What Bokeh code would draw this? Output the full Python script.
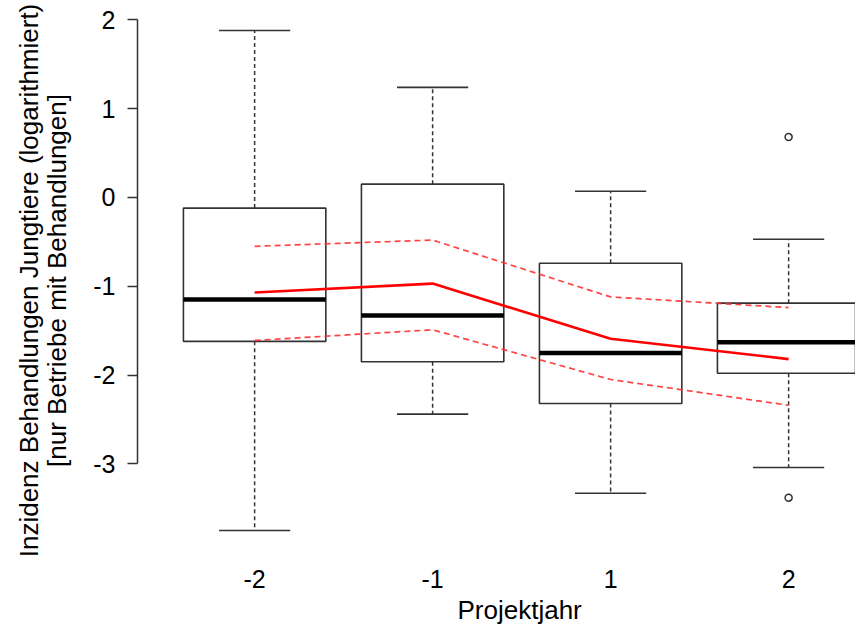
from bokeh.plotting import figure
from bokeh.models import Range1d, FixedTicker, Title
from bokeh.embed import file_html
from bokeh.resources import INLINE

# ---- data ----
categories = ["-2", "-1", "1", "2"]
whisker_low = [-3.75, -2.44, -3.33, -3.04]
q1 = [-1.62, -1.85, -2.32, -1.98]
median = [-1.15, -1.33, -1.75, -1.63]
q3 = [-0.12, 0.15, -0.74, -1.19]
whisker_high = [1.88, 1.24, 0.07, -0.47]
outlier_cat = ["2", "2"]
outlier_val = [0.68, -3.38]
mean_fit = [-1.07, -0.97, -1.59, -1.82]
ci_upper = [-0.55, -0.48, -1.12, -1.24]
ci_lower = [-1.61, -1.49, -2.05, -2.34]
y_ticks = [-3, -2, -1, 0, 1, 2]

FONT = "Liberation Sans"
FS_TICK = "25px"
FS_TITLE = "26px"
BOX_W = 0.8
CAP_W = 0.4
EDGE = "#333333"

xs = [i + 1 for i in range(len(categories))]
ox = [categories.index(c) + 1 for c in outlier_cat]

lo, hi = min(whisker_low + outlier_val), max(whisker_high + outlier_val)
pad = 0.04 * (hi - lo)

W, H = 855, 626
LEFT, TOP, BOTTOM = 137, 10, 75
p = figure(width=W, height=H, output_backend="svg", toolbar_location=None,
           x_range=Range1d(0.342, 0.342 + (W - LEFT) / 178.0),
           y_range=Range1d(lo - pad, hi + pad))
p.min_border_left = LEFT
p.min_border_right = 0
p.min_border_top = TOP
p.min_border_bottom = BOTTOM
p.outline_line_color = None
p.xgrid.visible = False
p.ygrid.visible = False
p.background_fill_color = "white"
p.border_fill_color = "white"

# whiskers (dashed)
p.segment(x0=xs, y0=q3, x1=xs, y1=whisker_high, line_color=EDGE, line_width=1.5, line_dash="4 3")
p.segment(x0=xs, y0=q1, x1=xs, y1=whisker_low, line_color=EDGE, line_width=1.5, line_dash="4 3")
# caps
p.segment(x0=[x - CAP_W / 2 for x in xs], y0=whisker_high, x1=[x + CAP_W / 2 for x in xs], y1=whisker_high,
          line_color=EDGE, line_width=1.6)
p.segment(x0=[x - CAP_W / 2 for x in xs], y0=whisker_low, x1=[x + CAP_W / 2 for x in xs], y1=whisker_low,
          line_color=EDGE, line_width=1.6)
# boxes
p.vbar(x=xs, width=BOX_W, bottom=q1, top=q3, fill_color="white", line_color=EDGE, line_width=1.6)
# medians
p.segment(x0=[x - BOX_W / 2 for x in xs], y0=median, x1=[x + BOX_W / 2 for x in xs], y1=median,
          line_color="black", line_width=4.5)
# outliers
p.scatter(x=ox, y=outlier_val, marker="circle", size=7, fill_color="white",
          line_color=EDGE, line_width=1.5)

# fitted trend and interval
p.line(xs, ci_upper, line_color="#ff3030", line_width=1.7, line_dash="6 4", line_alpha=0.9)
p.line(xs, ci_lower, line_color="#ff3030", line_width=1.7, line_dash="6 4", line_alpha=0.9)
p.line(xs, mean_fit, line_color="#ff0000", line_width=2.6)

# x axis: labels only
xa = p.xaxis[0]
xa.ticker = FixedTicker(ticks=xs)
xa.major_label_overrides = {x: c for x, c in zip(xs, categories)}
xa.axis_line_color = None
xa.major_tick_line_color = None
xa.minor_tick_line_color = None
xa.major_label_standoff = 13
xa.major_label_text_font = FONT
xa.major_label_text_font_size = FS_TICK
xa.major_label_text_color = "black"

# y axis
ya = p.yaxis[0]
ya.ticker = FixedTicker(ticks=y_ticks)
ya.major_label_overrides = {t: str(t) for t in y_ticks}
ya.bounds = (min(y_ticks), max(y_ticks))
ya.axis_line_color = EDGE
ya.axis_line_width = 1.5
ya.major_tick_line_color = EDGE
ya.major_tick_line_width = 1.5
ya.major_tick_in = 0
ya.major_tick_out = 10
ya.minor_tick_line_color = None
ya.major_label_standoff = 12
ya.major_label_text_font = FONT
ya.major_label_text_font_size = FS_TICK
ya.major_label_text_color = "black"
ya.axis_label = "Inzidenz Behandlungen Jungtiere (logarithmiert)\n[nur Betriebe mit Behandlungen]"
ya.axis_label_text_font = FONT
ya.axis_label_text_font_size = FS_TITLE
ya.axis_label_text_font_style = "normal"
ya.axis_label_text_color = "black"
ya.axis_label_text_line_height = 0.95
ya.axis_label_standoff = 18

p.add_layout(Title(text="Projektjahr", align="left", offset=320, text_font=FONT,
                   text_font_size=FS_TITLE, text_font_style="normal", text_color="black",
                   standoff=4), "below")

open("out.html", "w").write(file_html(p, INLINE))
